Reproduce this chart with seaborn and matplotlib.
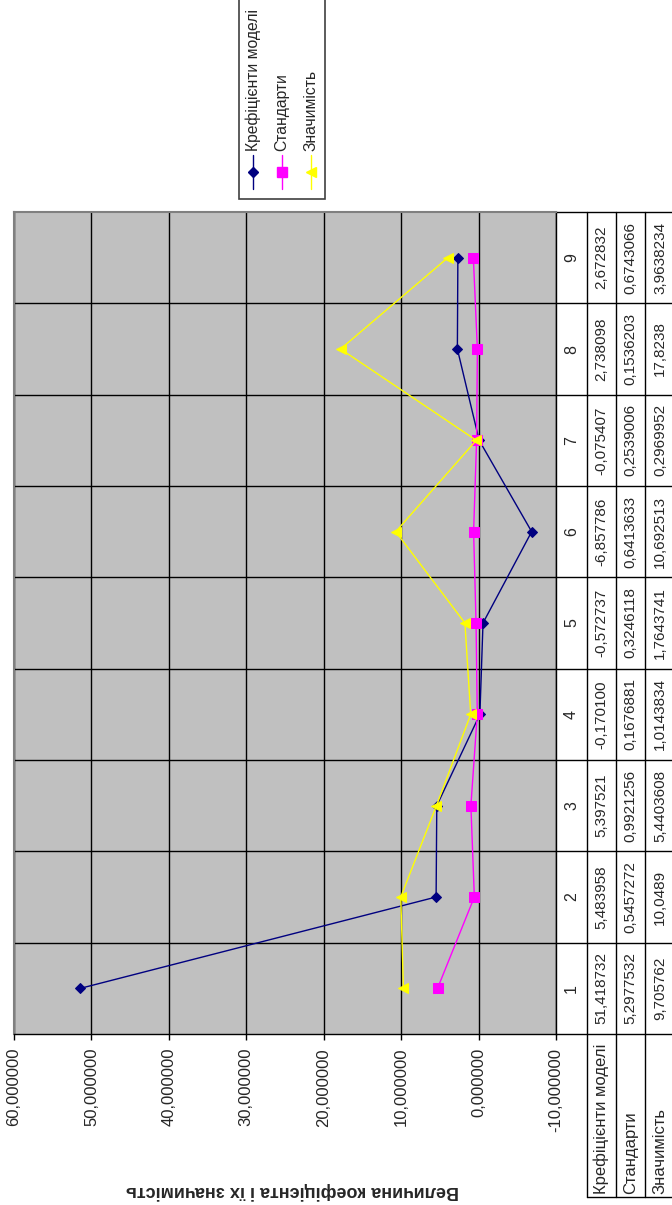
import matplotlib
matplotlib.use("Agg")
import matplotlib.pyplot as plt
import seaborn as sns
import pandas as pd
import numpy as np
from matplotlib.lines import Line2D
from matplotlib.patches import Rectangle

# ---- data -------------------------------------------------------------
categories = [1, 2, 3, 4, 5, 6, 7, 8, 9]
series_names = ["Крефіцієнти моделі", "Стандарти", "Значимість"]
coef_text = ["51,418732", "5,483958", "5,397521", "-0,170100", "-0,572737",
             "-6,857786", "-0,075407", "2,738098", "2,672832"]
std_text = ["5,2977532", "0,5457272", "0,9921256", "0,1676881", "0,3246118",
            "0,6413633", "0,2539006", "0,1536203", "0,6743066"]
sig_text = ["9,705762", "10,0489", "5,4403608", "1,0143834", "1,7643741",
            "10,692513", "0,2969952", "17,8238", "3,9638234"]
value_ticks = [60, 50, 40, 30, 20, 10, 0, -10]
axis_title = "Величина коефіцієнта і їх значимість"

def to_float(s):
    return float(s.replace(",", "."))

table_rows = [coef_text, std_text, sig_text]
frames = []
for name, row in zip(series_names, table_rows):
    frames.append(pd.DataFrame({"cat": categories,
                                "value": [to_float(s) for s in row],
                                "series": name}))
df = pd.concat(frames, ignore_index=True)

# ---- styling ----------------------------------------------------------
sns.set_style("white")
plt.rcParams["font.family"] = ["Liberation Sans", "DejaVu Sans"]

colors = {"Крефіцієнти моделі": "#000080",
          "Стандарти": "#FF00FF",
          "Значимість": "#FFFF00"}
markers = {"Крефіцієнти моделі": "D",
           "Стандарти": "s",
           "Значимість": "<"}
msizes = {"Крефіцієнти моделі": 5, "Стандарти": 6.5, "Значимість": 7.5}

W, H = 672, 1205
fig = plt.figure(figsize=(W / 100, H / 100), dpi=100)

# plot area in pixel units (rotated layout: values run horizontally)
left, right, top, bottom = 14, 556, 212, 1034
ax = fig.add_axes([left / W, 1 - bottom / H, (right - left) / W, (bottom - top) / H])
ax.set_facecolor("#C0C0C0")

for name in series_names:
    sub = df[df["series"] == name]
    sns.lineplot(data=sub, x="value", y="cat", orient="y", sort=False,
                 estimator=None, ax=ax, color=colors[name], lw=1,
                 marker=markers[name], ms=msizes[name],
                 mec=colors[name], mfc=colors[name], zorder=3)

ax.set_xlim(60, -10)
ax.set_ylim(0.5, 9.5)
ax.set_xlabel("")
ax.set_ylabel("")
if ax.get_legend() is not None:
    ax.get_legend().remove()

# gridlines
for v in value_ticks:
    ax.axvline(v, color="black", lw=1, zorder=1)
for k in range(1, len(categories)):
    ax.axhline(k + 0.5, color="black", lw=1, zorder=1)

for side in ["left", "top"]:
    ax.spines[side].set_color("#808080")
    ax.spines[side].set_linewidth(1.5)
for side in ["right", "bottom"]:
    ax.spines[side].set_color("black")
    ax.spines[side].set_linewidth(1)

ax.set_xticks(value_ticks)
ax.set_xticklabels([f"{v:.6f}".replace(".", ",") for v in value_ticks],
                   rotation=90, fontsize=12)
ax.tick_params(axis="x", direction="out", length=4, width=1, pad=6,
               bottom=True, color="black")
ax.set_yticks([])

# ---- data table to the right of the plot --------------------------------
def ax_x(px):
    return (px - left) / (right - left)

def ax_y(py):
    return (bottom - py) / (bottom - top)

ytr = ax.get_yaxis_transform()
col_edges = [556, 587, 616, 645, 675]
col_centers = [(a + b) / 2 for a, b in zip(col_edges[:-1], col_edges[1:])]
table_bottom = 1197

# horizontal borders between categories and along top / bottom
for k in range(len(categories) + 1):
    ax.plot([ax_x(col_edges[0]), ax_x(col_edges[-1])], [k + 0.5, k + 0.5],
            transform=ytr, color="black", lw=1, clip_on=False)
ax.plot([ax_x(col_edges[1]), ax_x(col_edges[-1])],
        [ax_y(table_bottom), ax_y(table_bottom)],
        transform=ax.transAxes, color="black", lw=1, clip_on=False)
# vertical borders
for xe in col_edges[1:4]:
    ax.plot([ax_x(xe), ax_x(xe)], [1, ax_y(table_bottom)],
            transform=ax.transAxes, color="black", lw=1, clip_on=False)

# category numbers
for c in categories:
    ax.text(ax_x(col_centers[0]), c, str(c), transform=ytr, rotation=90,
            ha="center", va="center", fontsize=11.5, clip_on=False)
# values
for ci, row in enumerate(table_rows):
    for c, s in zip(categories, row):
        ax.text(ax_x(col_centers[ci + 1]), c, s, transform=ytr, rotation=90,
                ha="center", va="center", fontsize=11, clip_on=False)
# row labels
for ci, name in enumerate(series_names):
    ax.text(ax_x(col_centers[ci + 1]), ax_y(1194), name, transform=ax.transAxes,
            rotation=90, ha="center", va="bottom", fontsize=12, clip_on=False)

# value axis title (turned upside down with the rest of the chart)
fig.text(292 / W, 1 - 1191 / H, axis_title, rotation=180, ha="center",
         va="center", fontsize=13, fontweight="bold")

# ---- legend -------------------------------------------------------------
def fx(px):
    return px / W

def fy(py):
    return 1 - py / H

fig.patches.append(Rectangle((fx(239), fy(199)), fx(325) - fx(239),
                             fy(-3) - fy(199), transform=fig.transFigure,
                             fill=True, facecolor="white", edgecolor="#404040",
                             lw=1.2, zorder=1))
for xc, name in zip([253.3, 282, 310.7], series_names):
    fig.lines.append(Line2D([fx(xc), fx(xc)], [fy(155), fy(189)],
                            transform=fig.transFigure, color=colors[name], lw=1))
    fig.lines.append(Line2D([fx(xc)], [fy(172)], transform=fig.transFigure,
                            marker=markers[name], ms=msizes[name], lw=0,
                            color=colors[name], mec=colors[name]))
    fig.text(fx(xc), fy(151), name, rotation=90, ha="center", va="bottom",
             fontsize=11.3)

fig.savefig("out.png", dpi=100)
